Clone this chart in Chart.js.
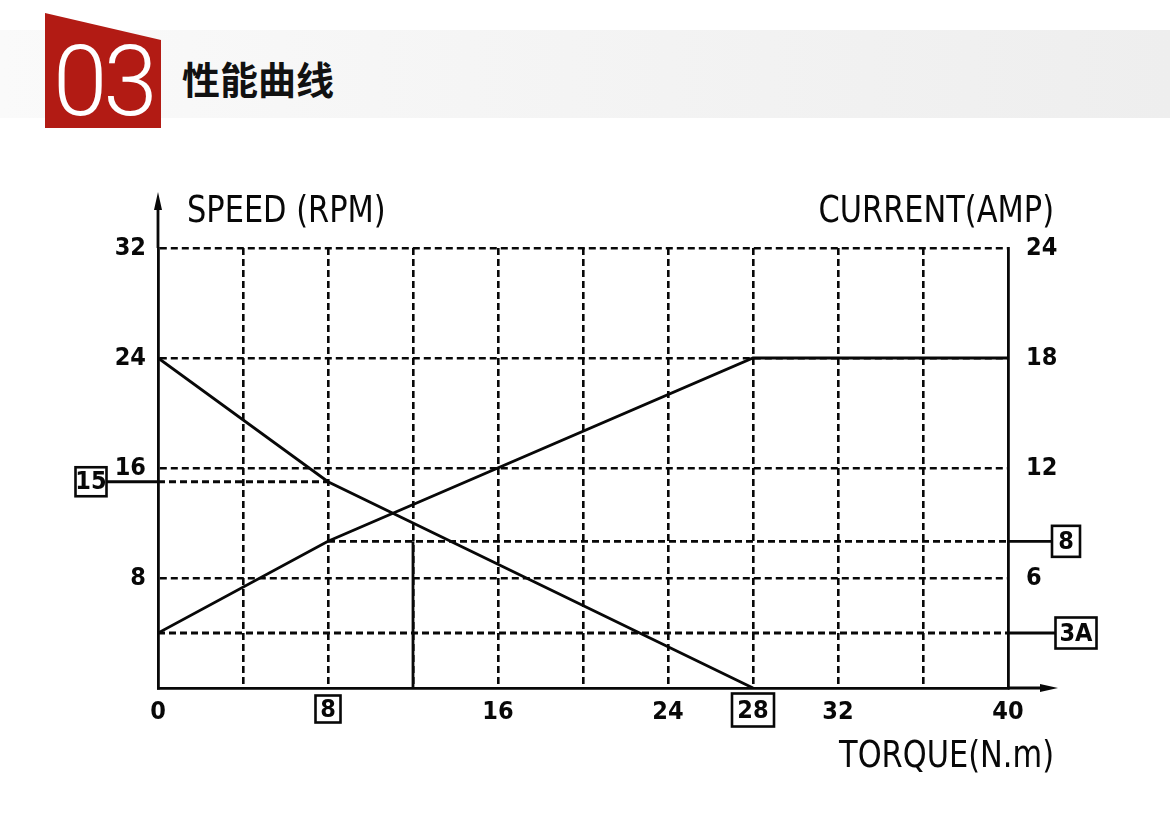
<!DOCTYPE html>
<html>
<head>
<meta charset="utf-8">
<script src="https://cdn.jsdelivr.net/npm/chart.js@4.4.1/dist/chart.umd.min.js"></script>
<style>
  html, body { margin: 0; padding: 0; background: #fff; }
  body { width: 1170px; height: 818px; position: relative; overflow: hidden; }
  .band {
    position: absolute; left: 0; top: 30px; width: 1170px; height: 88px;
    background: linear-gradient(to right, #fafafa 0%, #f5f5f5 40%, #eeeeee 100%);
  }
  .badge {
    position: absolute; left: 45px; top: 13px; width: 116px; height: 115px;
    background: #b21b14;
    clip-path: polygon(0 0, 100% 27px, 100% 100%, 0 100%);
  }
  .badge span {
    position: absolute; left: 8px; top: 20px;
    font: 300 98px/98px Roboto, "Open Sans", sans-serif;
    color: #fff; letter-spacing: -4px;
  }
  .heading {
    position: absolute; left: 182px; top: 59px;
    font: 700 38px/38px "Noto Sans CJK SC", sans-serif; color: #111;
  }
  #wrap { position: absolute; left: 0; top: 0; width: 1170px; height: 818px; }
</style>
</head>
<body>
<div class="band"></div>
<div class="badge"><span>03</span></div>
<div class="heading">性能曲线</div>
<div id="wrap"><canvas id="perf"></canvas></div>
<script>
// torque (N.m) on x, speed (RPM) on the left axis, current (A) on the right
var speedTorque = [0, 8, 28];
var speedValues = [24, 15, 0];
var currentTorque = [0, 8, 28, 40];
var currentValues = [3, 8, 18, 18];

var torqueLabels = [0, 16, 24, 32, 40];
var torqueBoxed = [8, 28];
var speedMarker = 15;       // speed at 8 N.m
var currentMarker = 8;      // current at 8 N.m
var noLoadCurrent = 3;      // labelled 3A
var ratedTorque = 12;

var ink = '#080808';
var lw = 2.8;
var font = '"DejaVu Sans Condensed", "Liberation Sans Narrow", sans-serif';

function pts(xs, ys) {
    return xs.map(function(v, i) { return {x: v, y: ys[i]}; });
}

function box(ctx, cx, cy, w, h, text) {
    ctx.fillStyle = '#fff';
    ctx.fillRect(cx - w / 2, cy - h / 2, w, h);
    ctx.strokeRect(cx - w / 2, cy - h / 2, w, h);
    ctx.fillStyle = ink;
    ctx.fillText(text, cx, cy + 1);
}

// titles are set a little narrower than the font draws them
function squeezed(ctx, text, x, y, align) {
    var k = 0.89;
    var w = ctx.measureText(text).width * k;
    var left = align === 'right' ? x - w : x;
    ctx.save();
    ctx.translate(left, y);
    ctx.scale(k, 1);
    ctx.textAlign = 'left';
    ctx.fillText(text, 0, 0);
    ctx.restore();
}

var extras = {
    id: 'extras',
    afterDraw: function(chart) {
        var ctx = chart.ctx, a = chart.chartArea;
        var x = chart.scales.x, y = chart.scales.y, y2 = chart.scales.y2;
        ctx.save();
        ctx.strokeStyle = ink;
        ctx.fillStyle = ink;
        ctx.lineWidth = lw;

        // axis extensions with arrow heads
        ctx.beginPath();
        ctx.moveTo(a.left, a.top);
        ctx.lineTo(a.left, a.top - 45);
        ctx.moveTo(a.right, a.bottom);
        ctx.lineTo(a.right + 40, a.bottom);
        ctx.stroke();
        ctx.beginPath();
        ctx.moveTo(a.left, a.top - 56);
        ctx.lineTo(a.left - 4, a.top - 38);
        ctx.lineTo(a.left + 4, a.top - 38);
        ctx.closePath();
        ctx.moveTo(a.right + 50, a.bottom);
        ctx.lineTo(a.right + 32, a.bottom - 4);
        ctx.lineTo(a.right + 32, a.bottom + 4);
        ctx.closePath();
        ctx.fill();

        // leaders out to the boxed values
        var ys = y.getPixelForValue(speedMarker);
        var yc = y2.getPixelForValue(currentMarker);
        var y3 = y2.getPixelForValue(noLoadCurrent);
        ctx.beginPath();
        ctx.moveTo(a.left - 52, ys); ctx.lineTo(a.left, ys);
        ctx.moveTo(a.right, yc); ctx.lineTo(a.right + 44, yc);
        ctx.moveTo(a.right, y3); ctx.lineTo(a.right + 48, y3);
        ctx.stroke();

        ctx.lineWidth = 2.6;
        ctx.font = 'bold 25px ' + font;
        ctx.textAlign = 'center';
        ctx.textBaseline = 'middle';
        box(ctx, a.left - 67, ys, 31, 29, String(speedMarker));
        box(ctx, a.right + 58, yc, 28, 31, String(currentMarker));
        box(ctx, a.right + 68, y3, 41, 31, noLoadCurrent + 'A');
        box(ctx, x.getPixelForValue(torqueBoxed[0]), a.bottom + 21, 25, 27, String(torqueBoxed[0]));
        box(ctx, x.getPixelForValue(torqueBoxed[1]), a.bottom + 22, 42, 33, String(torqueBoxed[1]));

        // axis titles
        ctx.font = '38px ' + font;
        ctx.textBaseline = 'alphabetic';
        squeezed(ctx, 'SPEED (RPM)', a.left + 29, a.top - 26, 'left');
        squeezed(ctx, 'CURRENT(AMP)', a.right + 46, a.top - 26, 'right');
        squeezed(ctx, 'TORQUE(N.m)', a.right + 46, a.bottom + 79, 'right');
        ctx.restore();
    }
};

function dashedLine(data, axis) {
    return {
        data: data, yAxisID: axis, borderColor: ink, borderWidth: lw,
        borderDash: [7, 4], pointRadius: 0, fill: false
    };
}

var tickFont = { family: font, size: 25, weight: 'bold' };

var ctx = document.getElementById('perf');
var perfChart = new Chart(ctx, {
    type: 'line',
    data: {
        datasets: [{
            label: 'speed',
            data: pts(speedTorque, speedValues),
            yAxisID: 'y',
            borderColor: ink, borderWidth: lw, pointRadius: 0, fill: false
        }, {
            label: 'current',
            data: pts(currentTorque, currentValues),
            yAxisID: 'y2',
            borderColor: ink, borderWidth: lw, pointRadius: 0, fill: false
        },
        dashedLine([{x: 0, y: speedMarker}, {x: torqueBoxed[0], y: speedMarker}], 'y'),
        dashedLine([{x: torqueBoxed[0], y: currentMarker}, {x: 40, y: currentMarker}], 'y2'),
        dashedLine([{x: 0, y: noLoadCurrent}, {x: 40, y: noLoadCurrent}], 'y2'),
        {
            data: [{x: ratedTorque, y: 0}, {x: ratedTorque, y: currentMarker}],
            yAxisID: 'y2',
            borderColor: ink, borderWidth: lw, pointRadius: 0, fill: false
        }]
    },
    options: {
        responsive: true,
        maintainAspectRatio: false,
        animation: false,
        layout: { padding: { top: 248, left: 0, right: 0, bottom: 0 } },
        plugins: { legend: { display: false }, tooltip: { enabled: false } },
        scales: {
            x: {
                type: 'linear', min: 0, max: 40,
                afterFit: function(s) { s.height = 130; },
                ticks: {
                    stepSize: 4, autoSkip: false, maxRotation: 0, padding: 9,
                    color: ink, font: tickFont,
                    callback: function(v) { return torqueLabels.indexOf(v) >= 0 ? String(v) : ''; }
                },
                grid: {
                    drawTicks: false, lineWidth: 2.6,
                    color: function(c) { return (c.tick && (c.tick.value === 0 || c.tick.value === 40)) ? 'rgba(0,0,0,0)' : ink; }
                },
                border: { color: ink, width: lw, dash: [7, 4] }
            },
            y: {
                position: 'left', min: 0, max: 32,
                afterFit: function(s) { s.width = 158; },
                ticks: {
                    stepSize: 8, padding: 12,
                    color: ink, font: tickFont,
                    callback: function(v) { return v === 0 ? '' : String(v); }
                },
                grid: {
                    drawTicks: false, lineWidth: 2.6,
                    color: function(c) { return (c.tick && c.tick.value === 0) ? 'rgba(0,0,0,0)' : ink; }
                },
                border: { color: ink, width: lw, dash: [7, 4] }
            },
            y2: {
                position: 'right', min: 0, max: 24,
                afterFit: function(s) { s.width = 162; },
                ticks: {
                    stepSize: 6, padding: 18,
                    color: ink, font: tickFont,
                    callback: function(v) { return v === 0 ? '' : String(v); }
                },
                grid: { drawOnChartArea: false, drawTicks: false },
                border: { color: ink, width: lw }
            }
        }
    },
    plugins: [extras]
});
</script>
</body>
</html>
